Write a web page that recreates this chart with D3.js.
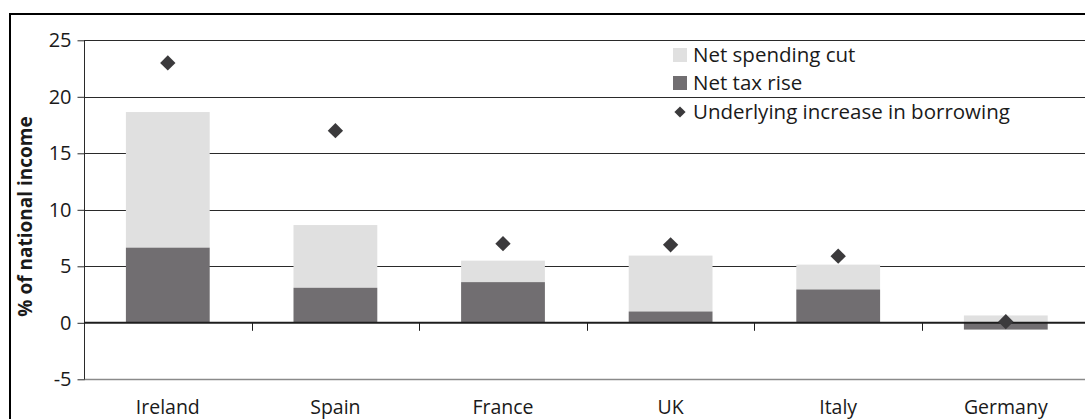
<!DOCTYPE html>
<html>
<head>
<meta charset="utf-8">
<script src="https://cdn.jsdelivr.net/npm/d3@7"></script>
<style>
  html, body { margin: 0; padding: 0; background: #fff; }
  svg { display: block; font-family: "Open Sans", sans-serif; }
</style>
</head>
<body>
<svg id="chart" width="1085" height="419"></svg>
<script>
// Fiscal consolidation by country, % of national income
const countries = ["Ireland", "Spain", "France", "UK", "Italy", "Germany"];
const spendingCut = [12.0, 5.55, 1.9, 4.95, 2.2, 0.65];
const taxRise = [6.65, 3.1, 3.6, 1.0, 2.95, -0.6];
const borrowingIncrease = [23.0, 17.0, 7.0, 6.9, 5.9, 0.1];
const yTicks = [-5, 0, 5, 10, 15, 20, 25];

const legendItems = [
  { label: "Net spending cut", type: "rect", color: "#e0e0e0" },
  { label: "Net tax rise", type: "rect", color: "#716e71" },
  { label: "Underlying increase in borrowing", type: "diamond", color: "#3b3a3c" }
];

const svg = d3.select("#chart");
const plotLeft = 84, plotRight = 1089.6, plotTop = 40.3, plotBottom = 379.3;

const x = d3.scaleBand().domain(countries).range([plotLeft, plotRight])
  .paddingInner(0.5).paddingOuter(0.25);
const y = d3.scaleLinear().domain([-5, 25]).range([plotBottom, plotTop]);
const step = x.step();

// outer frame
svg.append("rect")
  .attr("x", 10).attr("y", 14).attr("width", 1100).attr("height", 430)
  .attr("fill", "none").attr("stroke", "#000").attr("stroke-width", 2);

// horizontal gridlines
svg.append("g").selectAll("line")
  .data(yTicks.filter(t => t !== 0))
  .join("line")
  .attr("x1", plotLeft).attr("x2", 1085)
  .attr("y1", d => Math.round(y(d)) + 0.5).attr("y2", d => Math.round(y(d)) + 0.5)
  .attr("stroke", d => d === -5 ? "#8a8a8a" : "#2a2a2a")
  .attr("stroke-width", d => d === -5 ? 1.5 : 1);

// stacked bars: tax rise from zero, spending cut stacked on the positive side
const bars = svg.append("g");
countries.forEach((c, i) => {
  const t = taxRise[i], s = spendingCut[i];
  const posBase = Math.max(t, 0);
  bars.append("rect")
    .attr("x", x(c)).attr("width", x.bandwidth())
    .attr("y", y(posBase + s)).attr("height", y(posBase) - y(posBase + s))
    .attr("fill", "#e0e0e0");
  bars.append("rect")
    .attr("x", x(c)).attr("width", x.bandwidth())
    .attr("y", y(Math.max(t, 0))).attr("height", Math.abs(y(t) - y(0)))
    .attr("fill", "#716e71");
});

// y axis
const yAxis = d3.axisLeft(y).tickValues(yTicks).tickSize(7).tickPadding(6)
  .tickFormat(d => String(d));
const yg = svg.append("g").attr("transform", `translate(${plotLeft + 0.5},0)`).call(yAxis);
yg.select(".domain").attr("stroke", "#2a2a2a").attr("d", `M0,${y(-5)}V${y(25)}`);
yg.selectAll(".tick line").attr("stroke", "#2a2a2a");
yg.selectAll(".tick text").attr("font-size", 20).attr("fill", "#1a1a1a")
  .attr("font-family", "'Open Sans', sans-serif");

// zero axis with category separators
svg.append("line")
  .attr("x1", plotLeft).attr("x2", 1085)
  .attr("y1", y(0)).attr("y2", y(0))
  .attr("stroke", "#1e1e1e").attr("stroke-width", 2);
const sep = countries.slice(1).map(c => x(c) + x.bandwidth() / 2 - step / 2);
svg.append("g").selectAll("line").data(sep).join("line")
  .attr("x1", d => Math.round(d) + 0.5).attr("x2", d => Math.round(d) + 0.5)
  .attr("y1", y(0)).attr("y2", y(0) + 8)
  .attr("stroke", "#1e1e1e").attr("stroke-width", 1);

// category labels along the bottom
svg.append("g").selectAll("text").data(countries).join("text")
  .attr("x", d => x(d) + x.bandwidth() / 2)
  .attr("y", 413.5)
  .attr("text-anchor", "middle")
  .attr("font-size", 19.5).attr("fill", "#1a1a1a")
  .text(d => d);

// underlying borrowing markers
const diamond = d3.symbol().type(d3.symbolDiamond2);
svg.append("g").selectAll("path").data(countries).join("path")
  .attr("d", diamond.size(150)())
  .attr("transform", (d, i) => `translate(${x(d) + x.bandwidth() / 2},${y(borrowingIncrease[i])})`)
  .attr("fill", "#3b3a3c");

// y axis title
svg.append("text")
  .attr("transform", `translate(32,${(115 + 318) / 2}) rotate(-90)`)
  .attr("text-anchor", "middle")
  .attr("font-size", 19).attr("font-weight", "bold").attr("fill", "#1a1a1a")
  .text("% of national income");

// legend
const lg = svg.append("g").attr("transform", "translate(673,0)");
const rowY = [55, 83, 112];
legendItems.forEach((item, i) => {
  if (item.type === "rect") {
    lg.append("rect").attr("x", 0).attr("y", rowY[i] - 7).attr("width", 14).attr("height", 14)
      .attr("fill", item.color);
  } else {
    lg.append("path").attr("d", diamond.size(80)())
      .attr("transform", `translate(7,${rowY[i]})`).attr("fill", item.color);
  }
  lg.append("text").attr("x", 20).attr("y", rowY[i]).attr("dy", "0.35em")
    .attr("font-size", 20.5).attr("fill", "#1a1a1a").text(item.label);
});
</script>
</body>
</html>
